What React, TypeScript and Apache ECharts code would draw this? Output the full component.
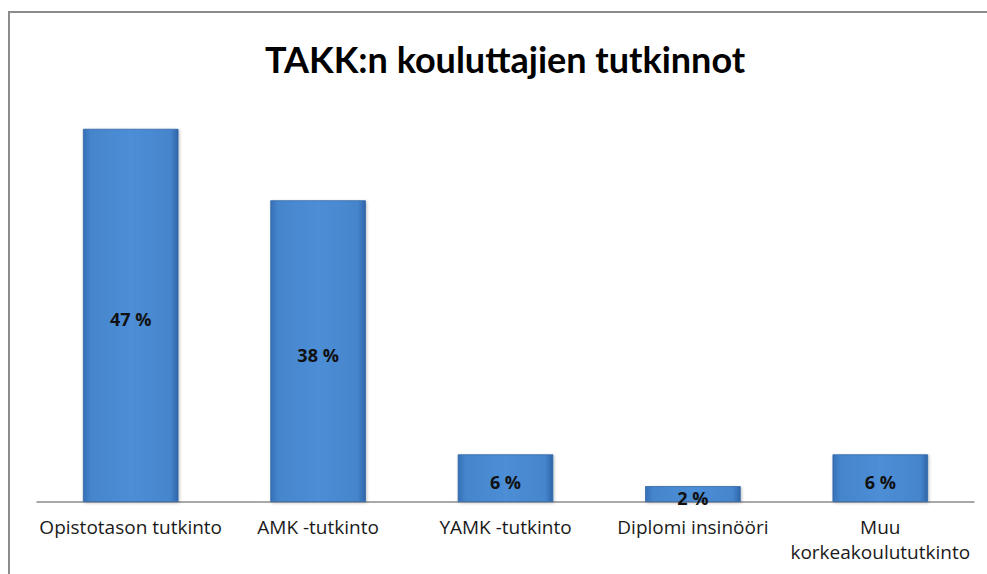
import React, { useEffect, useRef } from "react";
import * as echarts from "echarts";

const titleText = "TAKK:n kouluttajien tutkinnot";
const categories = [
  "Opistotason tutkinto",
  "AMK -tutkinto",
  "YAMK -tutkinto",
  "Diplomi insinööri",
  "Muu\nkorkeakoulututkinto",
];
const values = [47, 38, 6, 2, 6];

export default function App() {
  const ref = useRef<HTMLDivElement>(null);
  useEffect(() => {
    document.body.style.margin = "0";
    if (!ref.current) return;
    const chart = echarts.init(ref.current, undefined, { renderer: "svg" });
    const barColor = new echarts.graphic.LinearGradient(0, 0, 1, 0, [
      { offset: 0, color: "#3570B6" },
      { offset: 0.08, color: "#4585CC" },
      { offset: 0.5, color: "#4D8ED6" },
      { offset: 0.92, color: "#4585CC" },
      { offset: 1, color: "#2F65A8" },
    ]);
    chart.setOption({
      animation: false,
      backgroundColor: "#ffffff",
      title: {
        text: titleText,
        left: 500,
        textAlign: "center",
        top: 36,
        textStyle: {
          fontFamily: "Lato",
          fontWeight: "bold",
          fontSize: 36,
          color: "#000000",
        },
      },
      graphic: [
        {
          type: "line",
          shape: { x1: 8, y1: 12, x2: 987, y2: 12 },
          style: { stroke: "#8c8c8c", lineWidth: 2 },
        },
        {
          type: "line",
          shape: { x1: 9, y1: 12, x2: 9, y2: 574 },
          style: { stroke: "#8c8c8c", lineWidth: 2 },
        },
      ],
      grid: { left: 37, right: 13, top: 105, bottom: 72 },
      xAxis: {
        type: "category",
        data: categories,
        axisLine: { lineStyle: { color: "#8c8c8c", width: 1.5 } },
        axisTick: { show: false },
        axisLabel: {
          fontFamily: "Open Sans",
          fontSize: 19,
          color: "#1a1a1a",
          margin: 12,
          lineHeight: 25,
          interval: 0,
        },
      },
      yAxis: {
        type: "value",
        min: 0,
        max: 50,
        show: false,
        splitLine: { show: false },
      },
      series: [
        {
          type: "bar",
          data: values,
          barWidth: "51%",
          itemStyle: {
            color: barColor,
            borderColor: "#3468AA",
            borderWidth: 0.8,
            shadowColor: "rgba(0,0,0,0.25)",
            shadowBlur: 3,
            shadowOffsetX: 1,
            shadowOffsetY: 1,
          },
          label: {
            show: true,
            position: "inside",
            offset: [0, 4],
            formatter: (p: any) => `${p.value} %`,
            fontFamily: "Open Sans",
            fontWeight: "bold",
            fontSize: 18,
            color: "#111111",
          },
        },
      ],
    });
    return () => chart.dispose();
  }, []);
  return <div ref={ref} style={{ width: 987, height: 574 }} />;
}
